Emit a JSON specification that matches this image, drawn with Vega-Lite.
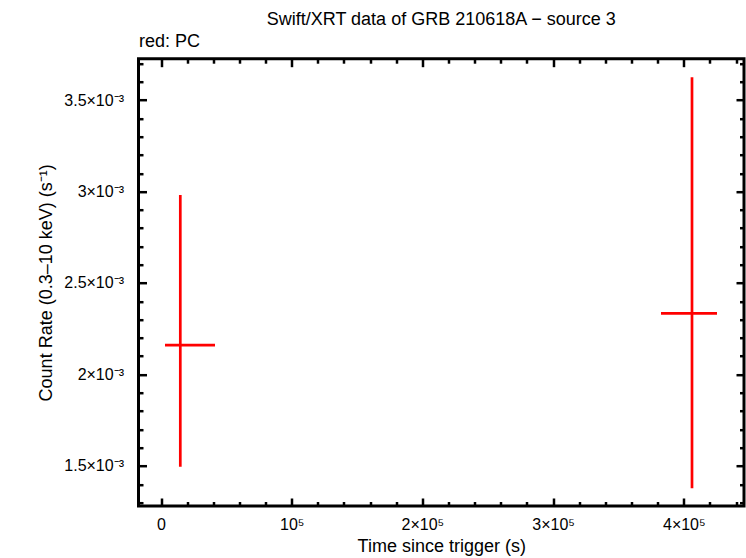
{
  "$schema": "https://vega.github.io/schema/vega-lite/v6.json",
  "autosize": "none",
  "padding": {"left": 138.5, "top": 58.7, "right": 2, "bottom": 52},
  "width": 605.5,
  "height": 447.3,
  "background": "white",
  "title": {
    "text": "Swift/XRT data of GRB 210618A − source 3",
    "font": "Liberation Sans",
    "fontSize": 18,
    "fontWeight": "normal",
    "color": "black",
    "anchor": "middle",
    "frame": "group",
    "offset": 3
  },
  "config": {
    "view": {"stroke": "black", "strokeWidth": 3},
    "axis": {
      "domain": false,
      "grid": false,
      "tickColor": "black",
      "tickWidth": 2.5,
      "labelFont": "Liberation Sans",
      "labelFontSize": 16,
      "labelColor": "black",
      "titleFont": "Liberation Sans",
      "titleFontSize": 18,
      "titleFontWeight": "normal",
      "titleColor": "black"
    }
  },
  "data": {
    "values": [
      {"t": 14770, "tlo": 3060, "thi": 41320, "rate": 0.002161, "lo": 0.001496, "hi": 0.002981},
      {"t": 406270, "tlo": 382550, "thi": 425400, "rate": 0.002334, "lo": 0.001378, "hi": 0.003624}
    ]
  },
  "resolve": {"axis": {"x": "independent", "y": "independent"}},
  "layer": [
    {
      "mark": {"type": "rule", "color": "#ff0000", "strokeWidth": 2.7},
      "encoding": {
        "x": {"field": "t", "type": "quantitative",
          "scale": {"domain": [-17215, 446055], "nice": false, "zero": false},
          "axis": {"orient": "bottom", "values": [0, 100000, 200000, 300000, 400000], "ticks": false, "labelPadding": 10,
            "labelExpr": "datum.value == 0 ? '0' : datum.value == 100000 ? '10⁵' : (datum.value/100000) + '×10⁵'",
            "title": "Time since trigger (s)", "titlePadding": 5}},
        "y": {"field": "lo", "type": "quantitative",
          "scale": {"domain": [0.0012814, 0.0037257], "nice": false, "zero": false},
          "axis": {"orient": "left", "values": [0.0015, 0.002, 0.0025, 0.003, 0.0035], "ticks": false, "labelPadding": 15,
            "labelExpr": "format(datum.value*1000, '.2~f') + '×10⁻³'",
            "title": "Count Rate (0.3–10 keV) (s⁻¹)", "titlePadding": 8}},
        "y2": {"field": "hi"}
      }
    },
    {
      "mark": {"type": "rule", "color": "#ff0000", "strokeWidth": 2.7},
      "encoding": {
        "x": {"field": "tlo", "type": "quantitative",
          "scale": {"domain": [-17215, 446055], "nice": false, "zero": false},
          "axis": {"orient": "bottom", "values": [0, 100000, 200000, 300000, 400000], "tickSize": -8, "labels": false, "title": null}},
        "x2": {"field": "thi"},
        "y": {"field": "rate", "type": "quantitative",
          "scale": {"domain": [0.0012814, 0.0037257], "nice": false, "zero": false},
          "axis": {"orient": "left", "values": [0.0015, 0.002, 0.0025, 0.003, 0.0035], "tickSize": -8, "labels": false, "title": null}}
      }
    },
    {
      "mark": {"type": "point", "opacity": 0},
      "encoding": {
        "x": {"field": "t", "type": "quantitative",
          "scale": {"domain": [-17215, 446055], "nice": false, "zero": false},
          "axis": {"orient": "bottom", "values": [20000, 40000, 60000, 80000, 120000, 140000, 160000, 180000, 220000, 240000, 260000, 280000, 320000, 340000, 360000, 380000, 420000, 440000], "tickSize": -4.5, "labels": false, "title": null}},
        "y": {"field": "rate", "type": "quantitative",
          "scale": {"domain": [0.0012814, 0.0037257], "nice": false, "zero": false},
          "axis": {"orient": "left", "values": [0.0013, 0.0014, 0.0016, 0.0017, 0.0018, 0.0019, 0.0021, 0.0022, 0.0023, 0.0024, 0.0026, 0.0027, 0.0028, 0.0029, 0.0031, 0.0032, 0.0033, 0.0034, 0.0036, 0.0037], "tickSize": -4.5, "labels": false, "title": null}}
      }
    },
    {
      "mark": {"type": "point", "opacity": 0},
      "encoding": {
        "x": {"field": "t", "type": "quantitative",
          "scale": {"domain": [-17215, 446055], "nice": false, "zero": false},
          "axis": {"orient": "top", "values": [0, 100000, 200000, 300000, 400000], "tickSize": -8, "labels": false,
            "title": "red: PC", "titleAnchor": "start", "titleAlign": "left", "titlePadding": 7}},
        "y": {"field": "rate", "type": "quantitative",
          "scale": {"domain": [0.0012814, 0.0037257], "nice": false, "zero": false},
          "axis": {"orient": "right", "values": [0.0015, 0.002, 0.0025, 0.003, 0.0035], "tickSize": -8, "labels": false, "title": null}}
      }
    },
    {
      "mark": {"type": "point", "opacity": 0},
      "encoding": {
        "x": {"field": "t", "type": "quantitative",
          "scale": {"domain": [-17215, 446055], "nice": false, "zero": false},
          "axis": {"orient": "top", "values": [20000, 40000, 60000, 80000, 120000, 140000, 160000, 180000, 220000, 240000, 260000, 280000, 320000, 340000, 360000, 380000, 420000, 440000], "tickSize": -4.5, "labels": false, "title": null}},
        "y": {"field": "rate", "type": "quantitative",
          "scale": {"domain": [0.0012814, 0.0037257], "nice": false, "zero": false},
          "axis": {"orient": "right", "values": [0.0013, 0.0014, 0.0016, 0.0017, 0.0018, 0.0019, 0.0021, 0.0022, 0.0023, 0.0024, 0.0026, 0.0027, 0.0028, 0.0029, 0.0031, 0.0032, 0.0033, 0.0034, 0.0036, 0.0037], "tickSize": -4.5, "labels": false, "title": null}}
      }
    }
  ]
}
